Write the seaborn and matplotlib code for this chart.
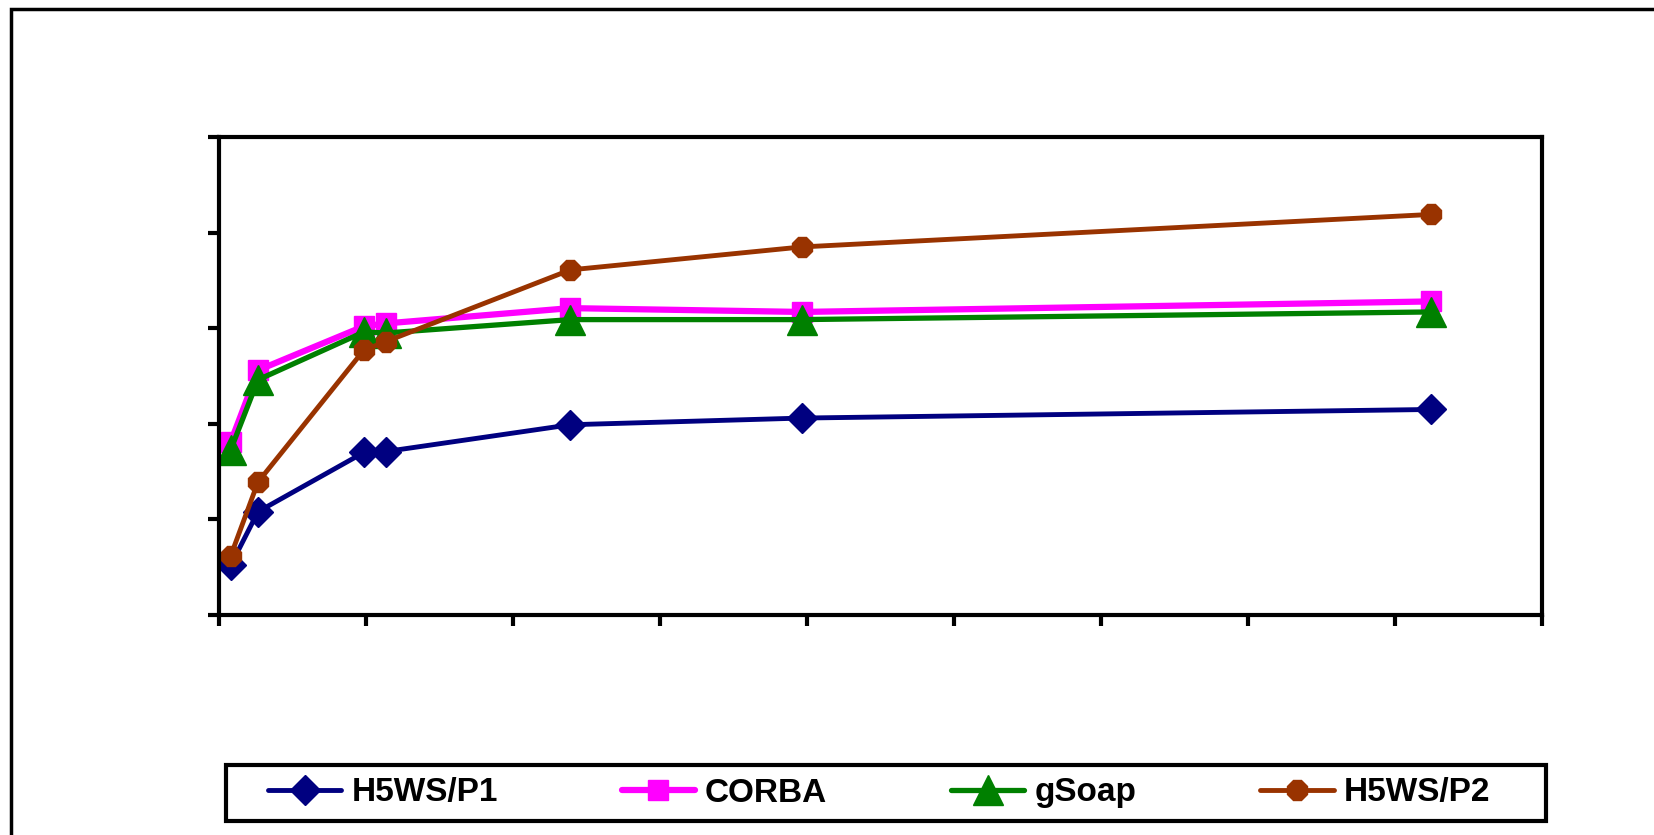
#%%
import numpy as np
import pandas as pd
import seaborn as sns
import matplotlib.pyplot as plt
from matplotlib.patches import Rectangle

#%%
# values (no tick labels in the original, so units are arbitrary)
msg_size = [80, 265, 985, 1135, 2390, 3965, 8245]
h5ws_p1 = [52, 108, 170, 171, 199, 206, 215]
corba = [181, 256, 302, 305, 321, 317, 328]
gsoap = [173, 246, 296, 295, 309, 309, 317]
h5ws_p2 = [62, 139, 277, 286, 361, 385, 419]

series_names = ['H5WS/P1', 'CORBA', 'gSoap', 'H5WS/P2']
x_ticks = np.arange(0, 9001, 1000)
y_ticks = np.arange(0, 501, 100)

df = pd.DataFrame({'size': msg_size * 4,
                   'time': h5ws_p1 + corba + gsoap + h5ws_p2,
                   'series': [s for s in series_names for _ in msg_size]})

#%%
sns.set_theme(style='white')
plt.rcParams['font.family'] = ['Liberation Sans', 'DejaVu Sans']

fig = plt.figure(figsize=(16.54, 8.35), dpi=100)
ax = fig.add_axes([219 / 1654, 1 - 615 / 835, 1323 / 1654, 478 / 835])

styles = {
    'H5WS/P1': dict(color='#000080', marker='D', markersize=15, lw=3.5),
    'CORBA': dict(color='#FF00FF', marker='s', markersize=14, lw=4.5),
    'gSoap': dict(color='#008000', marker='^', markersize=21, lw=3.8),
    'H5WS/P2': dict(color='#993300', marker='8', markersize=16, lw=3.5),
}

for name in series_names:
    st = styles[name]
    sns.lineplot(data=df[df['series'] == name], x='size', y='time', ax=ax,
                 estimator=None, sort=False, label=name,
                 color=st['color'], marker=st['marker'], markersize=st['markersize'],
                 markeredgecolor=st['color'], markeredgewidth=1, lw=st['lw'])

ax.set_xlim(0, 9000)
ax.set_ylim(0, 500)
ax.set_xticks(x_ticks)
ax.set_yticks(y_ticks)
ax.set_xticklabels([])
ax.set_yticklabels([])
ax.set_xlabel('')
ax.set_ylabel('')
ax.tick_params(axis='both', direction='out', length=8, width=3, color='black',
               bottom=True, left=True)
for sp in ax.spines.values():
    sp.set_visible(True)
    sp.set_color('black')
    sp.set_linewidth(3)

# legend below the plot, entries spread inside a black box
handles, labels = ax.get_legend_handles_labels()
ax.get_legend().remove()
fig.patches.append(Rectangle((226 / 1654, 1 - 821 / 835), 1320 / 1654, 56 / 835,
                             transform=fig.transFigure, fill=False,
                             edgecolor='black', lw=3))
leg = fig.legend(handles, labels, loc='center left',
                 bbox_to_anchor=(268 / 1654, 1 - 793 / 835, 1222 / 1654, 0),
                 mode='expand', ncol=4, frameon=False,
                 borderaxespad=0, borderpad=0,
                 handlelength=2.2, handletextpad=0.3,
                 prop=dict(weight='bold', size=24, family='Liberation Sans'))
for t in leg.get_texts():
    t.set_color('black')

# outer chart-area border (runs off the right and bottom edges)
fig.patches.append(Rectangle((11 / 1654, -0.05), 1.1, 1 - 9 / 835 + 0.05,
                             transform=fig.transFigure, fill=False,
                             edgecolor='black', lw=2.5))

fig.savefig('out.png', dpi=100, facecolor='white')
